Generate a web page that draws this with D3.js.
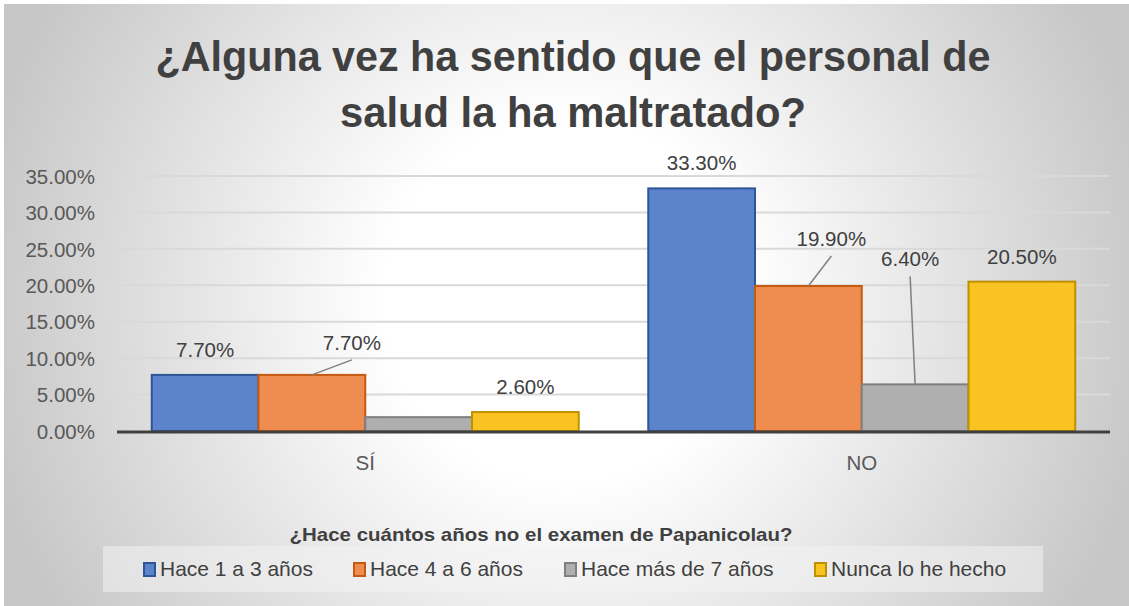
<!DOCTYPE html>
<html>
<head>
<meta charset="utf-8">
<script src="https://cdn.jsdelivr.net/npm/d3@7"></script>
<style>
  html, body { margin: 0; padding: 0; background: #ffffff; }
  svg { display: block; }
  text { font-family: "Liberation Sans", Arial, sans-serif; }
</style>
</head>
<body>
<svg id="chart" width="1129" height="606"></svg>
<script>
// ---- data ----
const categories = ["SÍ", "NO"];
const seriesNames = ["Hace 1 a 3 años", "Hace 4 a 6 años", "Hace más de 7 años", "Nunca lo he hecho"];
const valuesHace1a3 = [7.7, 33.3];
const valuesHace4a6 = [7.7, 19.9];
const valuesMas7 = [1.9, 6.4];
const valuesNunca = [2.6, 20.5];
const seriesValues = [valuesHace1a3, valuesHace4a6, valuesMas7, valuesNunca];
// whether a data label is shown (by series, category)
const labelShown = [[true, true], [true, true], [false, true], [true, true]];
const yTicks = [0, 5, 10, 15, 20, 25, 30, 35];
const titleLines = ["¿Alguna vez ha sentido que el personal de", "salud la ha maltratado?"];
const legendTitle = "¿Hace cuántos años no el examen de Papanicolau?";

// ---- styles / layout ----
const fills = ["#5b84cc", "#ee8d4f", "#afafaf", "#f9c422"];
const strokes = ["#2f5597", "#c55a11", "#7f7f7f", "#bf9000"];
// label displacement (series, category) -> [dx, dy] relative to default spot
const labelMoves = { "1-0": [40, -7], "1-1": [23, -22], "2-1": [-5, -100] };

const svg = d3.select("#chart");
const W = 1129, H = 606;

const defs = svg.append("defs");
const grad = defs.append("radialGradient").attr("id", "bg")
  .attr("gradientUnits", "userSpaceOnUse")
  .attr("cx", 565).attr("cy", 300).attr("r", 600);
grad.append("stop").attr("offset", 0).attr("stop-color", "#ffffff");
grad.append("stop").attr("offset", 0.3).attr("stop-color", "#ffffff");
grad.append("stop").attr("offset", 1).attr("stop-color", "#c6c6c6");

svg.append("rect").attr("x", 4).attr("y", 4).attr("width", W - 4).attr("height", H - 4)
  .attr("fill", "url(#bg)");

// title
svg.selectAll("text.title").data(titleLines).enter().append("text")
  .attr("class", "title")
  .attr("x", 573).attr("y", (d, i) => 71 + i * 56)
  .attr("text-anchor", "middle")
  .attr("font-size", 43).attr("font-weight", "bold").attr("fill", "#404040")
  .attr("textLength", (d, i) => i === 0 ? 835 : 466)
  .attr("lengthAdjust", "spacingAndGlyphs")
  .text(d => d);

// scales
const x0 = d3.scaleBand().domain(categories).range([117, 1110]).padding(0);
const gap = x0.bandwidth() * 0.14;
const x1 = d3.scaleBand().domain(d3.range(seriesNames.length))
  .range([gap / 2, x0.bandwidth() - gap / 2]).padding(0);
const y = d3.scaleLinear().domain([0, 35]).range([431, 176]);

// gridlines
svg.append("g").selectAll("line").data(yTicks.filter(t => t > 0)).enter().append("line")
  .attr("x1", 117).attr("x2", 1110)
  .attr("y1", d => y(d)).attr("y2", d => y(d))
  .attr("stroke", "#d9d9d9").attr("stroke-width", 2);

// y axis (labels only)
const yAxis = d3.axisLeft(y).tickValues(yTicks).tickSize(0).tickPadding(0)
  .tickFormat(d => d.toFixed(2) + "%");
const gy = svg.append("g").attr("transform", "translate(95,0)").call(yAxis);
gy.select(".domain").remove();
gy.selectAll("text").attr("font-size", 20.5).attr("fill", "#595959")
  .attr("font-family", "Liberation Sans, Arial, sans-serif").attr("dy", "0.35em");

// bars
const flat = [];
seriesValues.forEach((vals, s) => vals.forEach((v, c) => flat.push({ s, c, v })));
svg.append("g").selectAll("rect").data(flat).enter().append("rect")
  .attr("x", d => x0(categories[d.c]) + x1(d.s))
  .attr("y", d => y(d.v))
  .attr("width", x1.bandwidth())
  .attr("height", d => y(0) - y(d.v))
  .attr("fill", d => fills[d.s]).attr("stroke", d => strokes[d.s]).attr("stroke-width", 2);

// x axis baseline
svg.append("line").attr("x1", 117).attr("x2", 1110).attr("y1", y(0) + 1).attr("y2", y(0) + 1)
  .attr("stroke", "#404040").attr("stroke-width", 3);

// x axis labels
const xAxis = d3.axisBottom(x0).tickSize(0).tickPadding(0);
const gx = svg.append("g").attr("transform", "translate(0,470)").call(xAxis);
gx.select(".domain").remove();
gx.selectAll("text").attr("font-size", 20.5).attr("fill", "#595959")
  .attr("font-family", "Liberation Sans, Arial, sans-serif").attr("dy", 0);

// data labels
const labeled = flat.filter(d => labelShown[d.s][d.c]).map(d => {
  const cx = x0(categories[d.c]) + x1(d.s) + x1.bandwidth() / 2;
  const top = y(d.v);
  const mv = labelMoves[d.s + "-" + d.c];
  const lx = cx + (mv ? mv[0] : 0);
  const ly = top - 18 + (mv ? mv[1] : 0);
  return Object.assign({}, d, { cx, top, lx, ly, moved: !!mv });
});
svg.append("g").selectAll("line").data(labeled.filter(d => d.moved)).enter().append("line")
  .attr("x1", d => d.cx).attr("y1", d => d.top)
  .attr("x2", d => d.lx).attr("y2", d => d.ly + 10)
  .attr("stroke", "#808080").attr("stroke-width", 1.5);
svg.append("g").selectAll("text").data(labeled).enter().append("text")
  .attr("x", d => d.lx).attr("y", d => d.ly)
  .attr("text-anchor", "middle").attr("font-size", 20.5).attr("fill", "#404040")
  .text(d => d.v.toFixed(2) + "%");

// legend title
svg.append("text").attr("x", 541).attr("y", 541).attr("text-anchor", "middle")
  .attr("font-size", 18.5).attr("font-weight", "bold").attr("fill", "#404040")
  .attr("textLength", 503).attr("lengthAdjust", "spacingAndGlyphs")
  .text(legendTitle);

// legend box
svg.append("rect").attr("x", 103).attr("y", 546).attr("width", 940).attr("height", 46)
  .attr("fill", "#f2f2f2").attr("fill-opacity", 0.55);

const legendStarts = [143, 353, 564, 814];
const lg = svg.append("g").selectAll("g").data(seriesNames).enter().append("g")
  .attr("transform", (d, i) => `translate(${legendStarts[i]},0)`);
lg.append("rect").attr("x", 1).attr("y", 563).attr("width", 11).attr("height", 13)
  .attr("fill", (d, i) => fills[i]).attr("stroke", (d, i) => strokes[i]).attr("stroke-width", 2);
lg.append("text").attr("x", 17).attr("y", 576).attr("font-size", 21).attr("fill", "#404040")
  .text(d => d);
</script>
</body>
</html>
